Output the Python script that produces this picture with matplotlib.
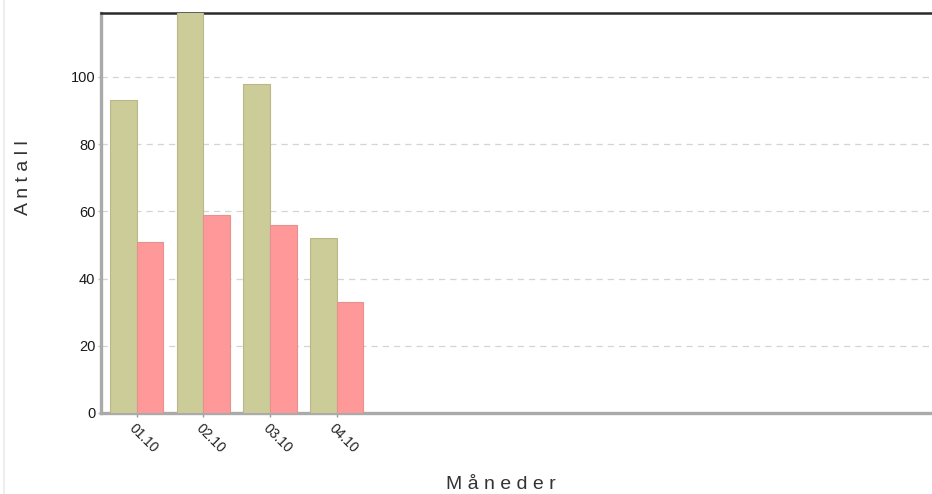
import matplotlib
matplotlib.use("Agg")
import matplotlib.pyplot as plt
import numpy as np
from matplotlib.lines import Line2D

plt.rcParams["font.family"] = ["Liberation Sans", "DejaVu Sans"]

# data
months = ["01.10", "02.10", "03.10", "04.10", ""]
series_a = [93, 121, 98, 52, 0]
series_b = [51, 59, 56, 33, 0]
y_ticks = [0, 20, 40, 60, 80, 100]

GREEN = "#CCCC99"
RED = "#FF9999"

W, H = 932, 494
fig = plt.figure(figsize=(W / 100, H / 100), dpi=100)
# plot area runs off the right edge of the picture, as in the reference
ax = fig.add_axes([101 / W, 1 - 413 / H, 1 - 101 / W + 0.002, 400 / H])

x = np.arange(len(months))
w = 0.4
ax.bar(x - w / 2, series_a, width=w, color=GREEN, edgecolor="#b8b888", linewidth=0.8, zorder=3)
ax.bar(x + w / 2, series_b, width=w, color=RED, edgecolor="#e69090", linewidth=0.8, zorder=3)

ax.set_xlim(-0.534, 11.96)
ax.set_ylim(0, 119)
ax.set_yticks(y_ticks)
ax.set_xticks(x[:4])
ax.set_xticklabels(months[:4], rotation=-45, ha="left", va="top",
                   rotation_mode="anchor", fontsize=10, color="#222222")
ax.tick_params(axis="y", labelsize=10.5, labelcolor="#1a1a1a", length=2,
               color="#bbbbbb", width=1, pad=2)
ax.tick_params(axis="x", length=3, color="#999999", width=1, pad=3)

ax.grid(axis="y", linestyle=(0, (5, 4)), color="#d4d4d4", linewidth=0.9, zorder=0)

ax.spines["right"].set_visible(False)
ax.spines["top"].set_color("#2a2a2a")
ax.spines["top"].set_linewidth(1.8)
ax.spines["left"].set_color("#aaaaaa")
ax.spines["left"].set_linewidth(2.4)
ax.spines["bottom"].set_color("#aaaaaa")
ax.spines["bottom"].set_linewidth(2.4)

# axis titles, letter-spaced like the reference
fig.text(23 / W, 1 - 178 / H, "A n t a l l", rotation=90, ha="center", va="center",
         fontsize=14, color="#333333")
fig.text(501 / W, 1 - 484 / H, "M å n e d e r", ha="center", va="center",
         fontsize=14, color="#333333")

# faint frame line at the left edge of the picture
fig.add_artist(Line2D([0.0045, 0.0045], [0, 1], color="#eeeeee", linewidth=1.5))

plt.savefig("out.png", dpi=100)
plt.close(fig)
